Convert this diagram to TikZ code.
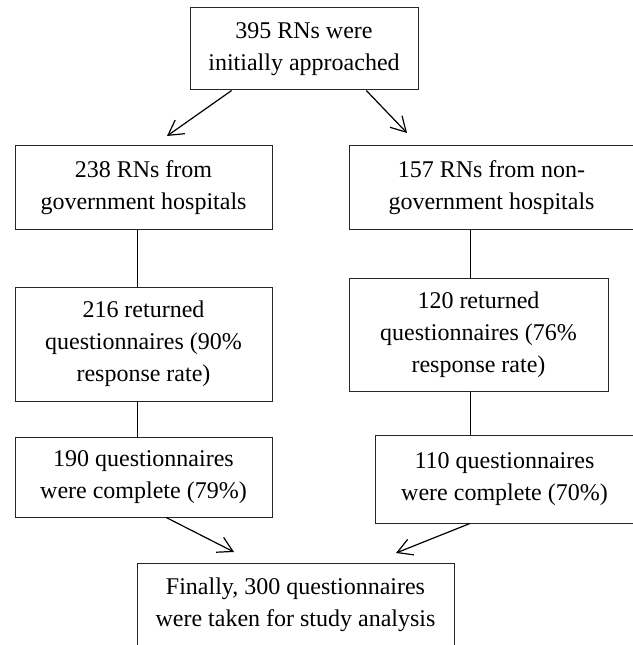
\documentclass[tikz,border=0pt]{standalone}
\usepackage{fontspec}
\setmainfont{Liberation Serif}
\usetikzlibrary{arrows.meta,calc}
\begin{document}
\begin{tikzpicture}[x=0.75pt,y=-0.75pt,
  box/.style={draw=black!85, line width=0.75pt, rectangle, inner sep=0pt, align=center,
    font=\fontsize{18}{24}\selectfont, text=black},
  link/.style={draw=black, line width=0.75pt},
  arr/.style={draw=black, line width=0.9pt, -{Straight Barb[length=11pt,width=12.5pt,line width=0.9pt]}}]
\useasboundingbox (0,0) rectangle (632,645);
\node[box, minimum width=171pt, minimum height=61.5pt] (top) at (304,49) {395 RNs were\\initially approached};
\node[box, minimum width=192.75pt, minimum height=62.25pt] (l2) at (143.5,187.5) {238 RNs from\\government hospitals};
\node[box, minimum width=213.75pt, minimum height=62.25pt] (r2) at (491.5,187.5) {157 RNs from non-\\government hospitals};
\node[box, minimum width=192.75pt, minimum height=85.5pt] (l3) at (143.5,344) {216 returned\\questionnaires (90\%\\response rate)};
\node[box, minimum width=194.25pt, minimum height=84.75pt] (r3) at (478.5,334.5) {120 returned\\questionnaires (76\%\\response rate)};
\node[box, minimum width=192.75pt, minimum height=60pt] (l4) at (143.5,477) {190 questionnaires\\were complete (79\%)};
\node[box, minimum width=194.25pt, minimum height=66pt] (r4) at (504.5,479) {110 questionnaires\\were complete (70\%)};
\node[box, minimum width=237.75pt, minimum height=63pt] (fin) at (295.5,605) {Finally, 300 questionnaires\\were taken for study analysis};
\coordinate (lx) at (137,0);
\coordinate (rx) at (470,0);
\coordinate (a1e) at (167,136);
\coordinate (a2e) at (407,133);
\coordinate (a3e) at (234,552);
\coordinate (a4e) at (396,553);
\draw[arr] ($(top.south west)!0.184!(top.south east)$) -- (a1e);
\draw[arr] ($(top.south west)!0.772!(top.south east)$) -- (a2e);
\draw[link] (l2.south -| lx) -- (l3.north -| lx);
\draw[link] (r2.south -| rx) -- (r3.north -| rx);
\draw[link] (l3.south -| lx) -- (l4.north -| lx);
\draw[link] (r3.south -| rx) -- (r4.north -| rx);
\draw[arr] ($(l4.south west)!0.588!(l4.south east)$) -- (a3e);
\draw[arr] ($(r4.south west)!0.367!(r4.south east)$) -- (a4e);
\end{tikzpicture}
\end{document}
